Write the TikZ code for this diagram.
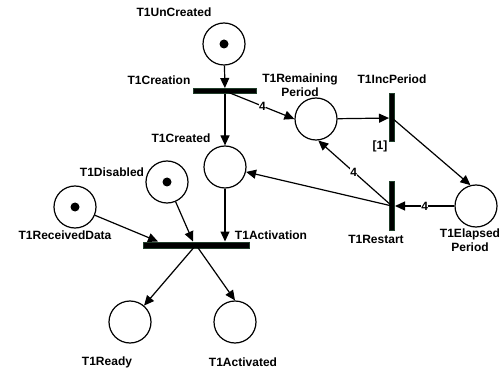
\documentclass[tikz,border=0pt]{standalone}
\usepackage{fontspec}
\setmainfont{Liberation Sans}
\usetikzlibrary{arrows.meta,calc}
\definecolor{barrim}{RGB}{32,62,42}
\begin{document}
\begin{tikzpicture}[x=1pt,y=-1pt,
  place/.style={circle,draw,line width=1.2pt,minimum size=42pt,inner sep=0pt},
  token/.style={circle,fill=black,minimum size=9pt,inner sep=0pt},
  hbar/.style={rectangle,draw=barrim,fill=black,line width=1pt,inner sep=0pt,minimum height=5pt},
  vbar/.style={rectangle,draw=barrim,fill=black,line width=1pt,inner sep=0pt,minimum width=5pt,minimum height=48pt},
  lbl/.style={font=\fontsize{12}{14}\selectfont\bfseries,inner sep=0pt,align=center},
  wt/.style={font=\fontsize{12}{14}\selectfont\bfseries,fill=white,inner sep=0.3pt},
  arc/.style={line width=1.2pt,-{Triangle[length=10pt,width=9pt]}}]
\useasboundingbox[fill=white] (0,0) rectangle (503,374);

% places
\node[place] (uncreated) at (224,44) {};
\node[token] (tokU) at (224,44) {};
\node[place] (remaining) at (316,119) {};
\node[place] (created) at (225,167) {};
\node[place] (disabled) at (167,182) {};
\node[token] (tokD) at (167,182) {};
\node[place] (received) at (75,207) {};
\node[token] (tokR) at (75,207) {};
\node[place] (elapsed) at (476,206) {};
\node[place] (ready) at (130,322) {};
\node[place] (activated) at (235,322) {};

% transitions
\node[hbar,minimum width=63pt] (creation) at (225,91) {};
\node[hbar,minimum width=106pt,minimum height=6pt] (activation) at (196,245) {};
\node[vbar] (incperiod) at (392,118) {};
\node[vbar] (restart) at (392,206) {};

% arc end points on the activation bar
\coordinate (inR) at ($(activation.north)+(-38,0)$);
\coordinate (inD) at ($(activation.north)+(-3,0)$);

% arcs
\draw[arc] (uncreated) -- (creation);
\draw[arc] (creation.center) -- node[wt,pos=0.54] {4} (remaining.west);
\draw[arc] (creation) -- (created);
\draw[arc] (remaining) -- (incperiod);
\draw[arc] (incperiod.center) -- (elapsed.105);
\draw[arc] (elapsed) -- node[wt,pos=0.5] {4} (restart);
\draw[arc] (restart.center) -- node[wt,pos=0.52] {4} (remaining.-84);
\draw[arc] (restart.center) -- (created);
\draw[arc] (created) -- (created |- activation.north);
\draw[arc] (disabled) -- (inD);
\draw[arc] (received) -- (inR);
\draw[arc] (activation.center) -- (ready);
\draw[arc] (activation.center) -- (activated.north);

% labels
\node[lbl] (lUncreated) at (174,12) {T1UnCreated};
\node[lbl] (lCreation) at (159,80) {T1Creation};
\node[lbl] (lRemaining) at (300,85) {T1Remaining\\Period};
\node[lbl] (lInc) at (392,79) {T1IncPeriod};
\node[lbl] (lDelay) at (380,146) {[1]};
\node[lbl] (lCreated) at (181,138) {T1Created};
\node[lbl] (lDisabled) at (112,172) {T1Disabled};
\node[lbl] (lReceived) at (65,235) {T1ReceivedData};
\node[lbl] (lActivation) at (271,235) {T1Activation};
\node[lbl] (lRestart) at (376,239) {T1Restart};
\node[lbl] (lElapsed) at (470,240) {T1Elapsed\\Period};
\node[lbl] (lReady) at (107,362) {T1Ready};
\node[lbl] (lActivated) at (243,362) {T1Activated};
\end{tikzpicture}
\end{document}
